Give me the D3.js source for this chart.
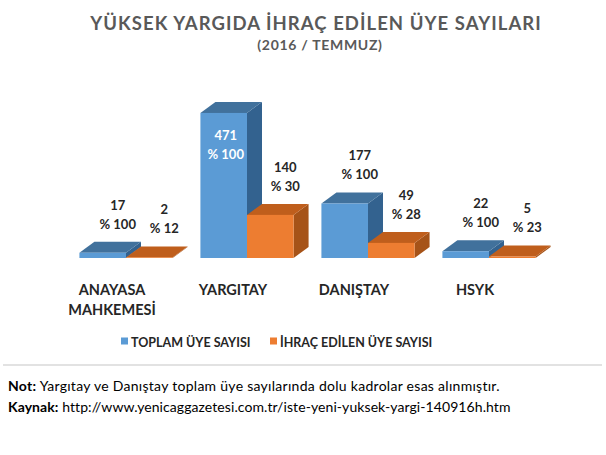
<!DOCTYPE html>
<html><head><meta charset="utf-8">
<script src="https://cdn.jsdelivr.net/npm/d3@7"></script>
<style>
body{margin:0;background:#fff;}
svg{display:block;font-family:Lato,"Open Sans",sans-serif;}
</style></head>
<body><svg id="c" width="606" height="455"></svg>
<script>
const categories = [["ANAYASA","MAHKEMESİ"],["YARGITAY"],["DANIŞTAY"],["HSYK"]];
const seriesNames = ["TOPLAM ÜYE SAYISI","İHRAÇ EDİLEN ÜYE SAYISI"];
const totalMembers = [17,471,177,22];
const expelledMembers = [2,140,49,5];
const totalPct = [100,100,100,100];
const expelledPct = [12,30,28,23];

const W=606,H=455;
const svg=d3.select("#c");
svg.append("rect").attr("width",W).attr("height",H).attr("fill","#fff");

const keys=categories.map(c=>c.join(" "));
const x=d3.scaleBand().domain(keys).range([65.5,549.5]).paddingInner(0.23).paddingOuter(0.115);
const xs=d3.scaleBand().domain([0,1]).range([0,x.bandwidth()]);
const y=d3.scaleLinear().domain([0,500]).range([258,104]);
const DX=15, DY=-11;
const colors=[{front:"#5B9BD5",top:"#41719C",side:"#33628F"},{front:"#ED7D31",top:"#BF5E1C",side:"#A65318"}];

// title
svg.append("text").attr("x",316).attr("y",30).attr("text-anchor","middle")
  .attr("font-size",18.5).attr("font-weight","bold").attr("fill","#595959")
  .attr("letter-spacing",1.05)
  .text("YÜKSEK YARGIDA İHRAÇ EDİLEN ÜYE SAYILARI");
svg.append("text").attr("x",320).attr("y",50).attr("text-anchor","middle")
  .attr("font-size",14).attr("font-weight","bold").attr("fill","#595959")
  .attr("letter-spacing",0.7)
  .text("(2016 / TEMMUZ)");

const g=svg.append("g");
const series=[totalMembers,expelledMembers];
const pcts=[totalPct,expelledPct];
keys.forEach((k,i)=>{
  [0,1].forEach(s=>{
    const v=series[s][i];
    const x0=x(k)+xs(s), x1=x0+xs.bandwidth();
    const yb=y(0), yt=y(v);
    const c=colors[s];
    g.append("path").attr("fill",c.side)
      .attr("d",`M${x1},${yb}L${x1+DX},${yb+DY}L${x1+DX},${yt+DY}L${x1},${yt}Z`);
    g.append("path").attr("fill",c.top)
      .attr("d",`M${x0},${yt}L${x0+DX},${yt+DY}L${x1+DX},${yt+DY}L${x1},${yt}Z`);
    g.append("rect").attr("x",x0).attr("y",yt).attr("width",x1-x0).attr("height",yb-yt).attr("fill",c.front);
  });
});
// labels
keys.forEach((k,i)=>{
  [0,1].forEach(s=>{
    const v=series[s][i];
    const x0=x(k)+xs(s), cx=x0+xs.bandwidth()/2;
    const yt=y(v);
    let lx, l2, fill;
    if(y(0)-yt>60){ lx=cx+2; l2=yt+46; fill="#fff"; }
    else { lx=cx+15; l2=yt+DY-13; fill="#262626"; }
    const t=svg.append("text").attr("text-anchor","middle").attr("font-size",13)
      .attr("font-weight","bold").attr("fill",fill);
    t.append("tspan").attr("x",lx).attr("y",l2-19).text(v);
    t.append("tspan").attr("x",lx).attr("y",l2).text("% "+pcts[s][i]);
  });
});
// category labels
keys.forEach((k,i)=>{
  const cx=x(k)+x.bandwidth()/2-14;
  const t=svg.append("text").attr("text-anchor","middle").attr("font-size",14.5)
    .attr("font-weight","bold").attr("fill","#262626");
  categories[i].forEach((ln,j)=>t.append("tspan").attr("x",cx).attr("y",295+j*20).text(ln));
});
// legend
const legX=[121,270];
seriesNames.forEach((n,s)=>{
  svg.append("rect").attr("x",legX[s]).attr("y",337.5).attr("width",7).attr("height",7).attr("fill",colors[s].front);
  svg.append("text").attr("x",legX[s]+10).attr("y",346.5).attr("font-size",12.5)
    .attr("font-weight","bold").attr("fill","#262626").text(n);
});
// separator
svg.append("line").attr("x1",3).attr("x2",602).attr("y1",365).attr("y2",365)
  .attr("stroke","#d9d9d9").attr("stroke-width",1.5);
// notes
const n1=svg.append("text").attr("x",8).attr("y",391).attr("font-size",14).attr("letter-spacing",0.28).attr("fill","#000");
n1.append("tspan").attr("font-weight","bold").text("Not:");
n1.append("tspan").text(" Yargıtay ve Danıştay toplam üye sayılarında dolu kadrolar esas alınmıştır.");
const n2=svg.append("text").attr("x",8).attr("y",412).attr("font-size",14).attr("letter-spacing",0.08).attr("fill","#000");
n2.append("tspan").attr("font-weight","bold").text("Kaynak:");
n2.append("tspan").text(" http://www.yenicaggazetesi.com.tr/iste-yeni-yuksek-yargi-140916h.htm");
</script></body></html>
